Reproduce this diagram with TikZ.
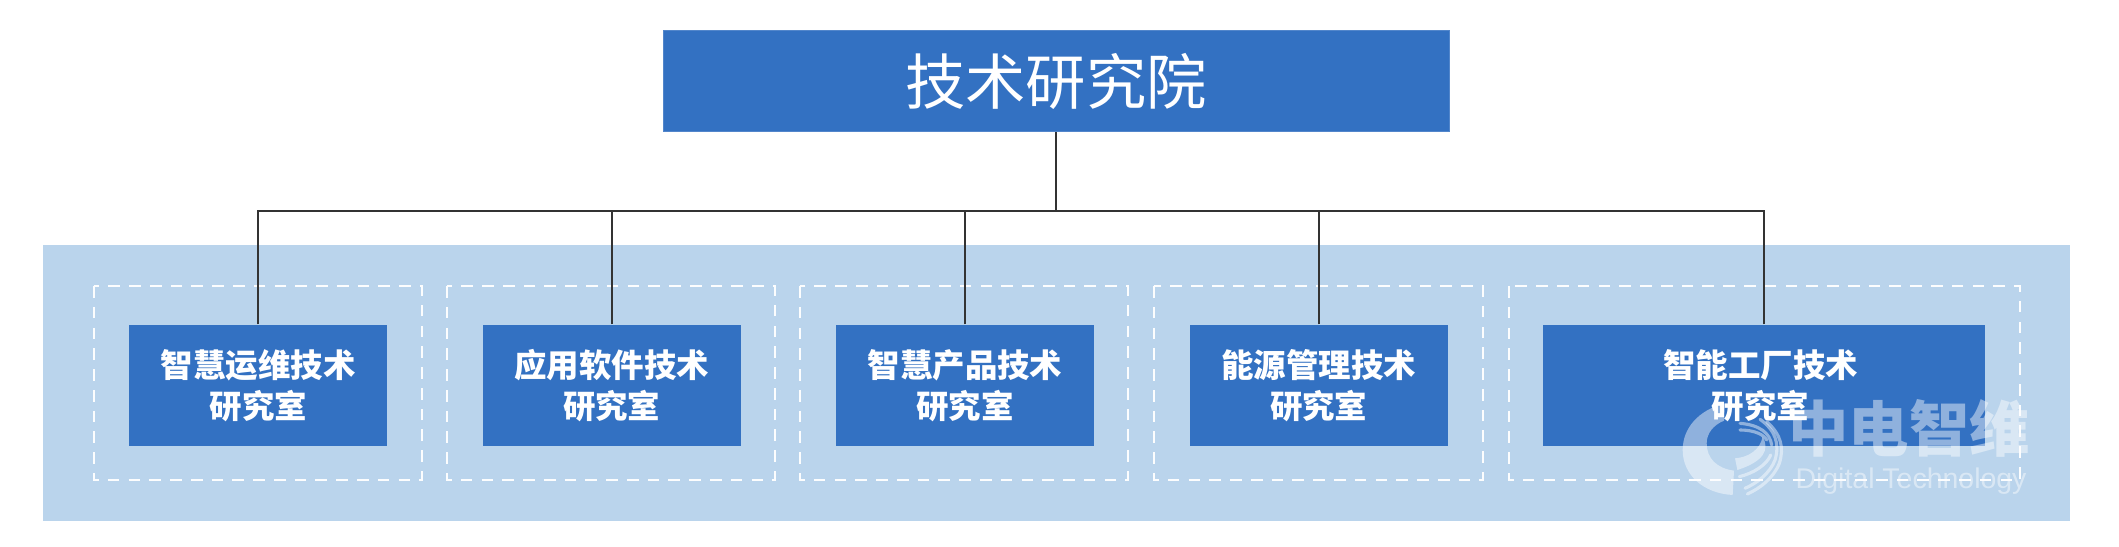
\documentclass[tikz,border=0pt]{standalone}
\usepackage{fontspec}
\setmainfont{Noto Sans CJK SC}
\newfontfamily\wmfont{Liberation Sans}
\definecolor{boxblue}{HTML}{3371C2}
\definecolor{panel}{HTML}{BAD4EC}
\definecolor{linegray}{HTML}{333333}
\tikzset{
  x=0.3514pt,y=-0.3514pt,
  topbox/.style={rectangle,draw=boxblue!85!white,line width=0.3pt,fill=boxblue,text=white,minimum width=276.2pt,minimum height=35.6pt,inner sep=0pt,font=\fontsize{21.2}{24}\selectfont,anchor=center},
  roombox/.style={rectangle,fill=boxblue,text=white,minimum height=42.5pt,inner sep=0pt,align=center,font=\fontsize{11.4}{14.3}\selectfont\bfseries,anchor=center},
  dashbox/.style={draw=white!96!panel,line width=1pt,dash pattern=on 4.1pt off 3.2pt},
  wire/.style={draw=linegray,line width=0.6pt},
  wmark/.style={white,opacity=0.45},
  wmarc/.style={draw=white,opacity=0.45,line width=1.1pt,line cap=round},
}
\begin{document}
\begin{tikzpicture}
\useasboundingbox (0,0) rectangle (2119,547);
\fill[panel] (43,245) rectangle (2070,521);
\foreach \a/\b in {94/422,447/775,800/1128,1154/1483,1509/2020}
  \draw[dashbox] (\a,286) rectangle (\b,480);
\node[topbox] (top) at (1056,81) {技术研究院};
\node[roombox,minimum width=90.7pt] (r1) at (258.3,385.5) {智慧运维技术\\研究室};
\node[roombox,minimum width=90.7pt] (r2) at (611.7,385.5) {应用软件技术\\研究室};
\node[roombox,minimum width=90.7pt] (r3) at (965,385.5) {智慧产品技术\\研究室};
\node[roombox,minimum width=90.7pt] (r4) at (1318.7,385.5) {能源管理技术\\研究室};
\node[roombox,minimum width=155.5pt] (r5) at (1764,385.5) {智能工厂技术\hspace*{2.4pt}\\研究室\hspace*{2.4pt}};
\coordinate (bus) at (1056,211);
\draw[wire] (top.south) -- (bus);
\draw[wire] (r1.north) |- (bus);
\draw[wire] (r2.north) |- (bus);
\draw[wire] (r3.north) |- (bus);
\draw[wire] (r4.north) |- (bus);
\draw[wire] (r5.north) |- (bus);
% watermark logo
\begin{scope}[shift={(1660,380)},x=0.11713pt,y=-0.11713pt]
  \fill[wmark] (195,70) .. controls (115,90) and (68,145) .. (68,210)
     .. controls (68,285) and (130,340) .. (218,345)
     -- (222,272) .. controls (170,265) and (140,235) .. (140,190)
     .. controls (140,160) and (160,135) .. (192,122) -- cycle;
  \fill[wmark] (225,235) .. controls (265,232) and (300,210) .. (308,170)
     .. controls (330,210) and (310,245) .. (232,270) -- cycle;
  \draw[wmarc] (240,130) .. controls (300,135) and (330,160) .. (335,195);
  \draw[wmarc] (240,150) .. controls (285,150) and (312,165) .. (320,180);
  \draw[wmarc] (300,118) .. controls (345,150) and (360,190) .. (345,240) .. controls (330,280) and (290,310) .. (255,325);
  \draw[wmarc] (320,125) .. controls (365,165) and (372,205) .. (358,250) .. controls (340,295) and (300,325) .. (262,342);
  \draw[wmarc] (238,290) .. controls (280,280) and (320,255) .. (332,225);
\end{scope}
\node[wmark,anchor=center,font=\fontsize{21.2}{24}\selectfont\bfseries,inner sep=0pt] (wm1) at (1909,428) {中电智维};
\node[wmark,anchor=center,font=\wmfont\fontsize{10}{12}\selectfont,inner sep=0pt] (wm2) at (1911,481) {Digital Technology};
\end{tikzpicture}
\end{document}
